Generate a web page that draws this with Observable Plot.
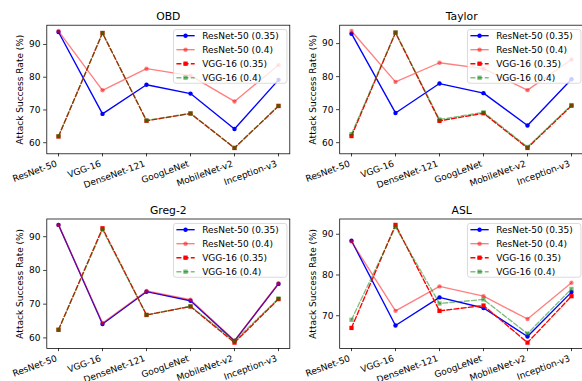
<!DOCTYPE html>
<html><head><meta charset="utf-8">
<script src="https://cdn.jsdelivr.net/npm/d3@7"></script>
<script src="https://cdn.jsdelivr.net/npm/@observablehq/plot@0.6"></script>
<style>
html,body{margin:0;padding:0;background:#fff;overflow:hidden}
#root{position:relative;width:582px;height:381px;overflow:hidden;font-family:"DejaVu Sans",sans-serif;background:#fff}
.abs{position:absolute}
</style></head><body><div id="root"></div>
<script>
// ---- data ----
const models = ["ResNet-50", "VGG-16", "DenseNet-121", "GoogLeNet", "MobileNet-v2", "Inception-v3"];
const seriesNames = ["ResNet-50 (0.35)", "ResNet-50 (0.4)", "VGG-16 (0.35)", "VGG-16 (0.4)"];
const yLabel = "Attack Success Rate (%)";
const titles = ["OBD", "Taylor", "Greg-2", "ASL"];

const obdResNet035 = [93.8, 68.8, 77.7, 75.0, 64.2, 79.2];
const obdResNet04  = [94.1, 76.0, 82.6, 80.5, 72.6, 83.7];
const obdVGG035    = [61.9, 93.5, 66.7, 68.9, 58.4, 71.2];
const obdVGG04     = [62.0, 93.5, 66.8, 69.0, 58.4, 71.3];

const taylorResNet035 = [93.0, 69.0, 77.9, 75.0, 65.2, 79.2];
const taylorResNet04  = [93.8, 78.4, 84.2, 82.4, 75.9, 85.2];
const taylorVGG035    = [62.0, 93.3, 66.6, 68.9, 58.4, 71.2];
const taylorVGG04     = [62.6, 93.4, 67.0, 69.2, 58.7, 71.4];

const gregResNet035 = [93.5, 64.1, 73.7, 71.0, 59.1, 76.0];
const gregResNet04  = [93.5, 64.4, 73.9, 71.3, 59.2, 76.2];
const gregVGG035    = [62.4, 92.5, 66.8, 69.3, 58.6, 71.5];
const gregVGG04     = [62.4, 92.1, 66.8, 69.4, 59.1, 71.7];

const aslResNet035 = [88.4, 67.6, 74.5, 71.9, 64.9, 75.8];
const aslResNet04  = [88.2, 71.2, 77.2, 74.8, 69.2, 78.1];
const aslVGG035    = [67.0, 92.3, 71.2, 72.5, 63.4, 74.8];
const aslVGG04     = [69.0, 91.8, 73.0, 74.0, 65.6, 76.6];

const yTicksOBD = [60, 70, 80, 90];
const yTicksTaylor = [60, 70, 80, 90];
const yTicksGreg = [60, 70, 80, 90];
const yTicksASL = [70, 80, 90];

// ---- styles ----
const seriesStyle = [
  {color: "#0000ff", alpha: 1, dash: null, symbol: "circle"},
  {color: "#ff0000", alpha: 0.5, dash: null, symbol: "circle"},
  {color: "#ff0000", alpha: 1, dash: "5,2.2", symbol: "square"},
  {color: "#008000", alpha: 0.5, dash: "5,2.2", symbol: "square"}
];

const panels = [
  {title: titles[0], values: [obdResNet035, obdResNet04, obdVGG035, obdVGG04], ticks: yTicksOBD,
   left: 0, top: 0, w: 291, h: 190, fx0: 46.3, fx1: 289.3, fy0: 24.7, fy1: 153.3},
  {title: titles[1], values: [taylorResNet035, taylorResNet04, taylorVGG035, taylorVGG04], ticks: yTicksTaylor,
   left: 291, top: 0, w: 294, h: 190, fx0: 339.2, fx1: 583.2, fy0: 24.7, fy1: 153.3},
  {title: titles[2], values: [gregResNet035, gregResNet04, gregVGG035, gregVGG04], ticks: yTicksGreg,
   left: 0, top: 190, w: 291, h: 191, fx0: 46.3, fx1: 289.3, fy0: 218.5, fy1: 348},
  {title: titles[3], values: [aslResNet035, aslResNet04, aslVGG035, aslVGG04], ticks: yTicksASL,
   left: 291, top: 190, w: 294, h: 191, fx0: 339.2, fx1: 583.2, fy0: 218.5, fy1: 348}
];

const root = d3.select("#root");

function makePanel(p) {
  const all = p.values.flat();
  const lo = d3.min(all), hi = d3.max(all), pad = (hi - lo) * 0.05;
  const marks = [];
  p.values.forEach((vals, i) => {
    const st = seriesStyle[i];
    const rows = vals.map((v, j) => ({model: models[j], value: v}));
    marks.push(Plot.line(rows, {x: "model", y: "value", stroke: st.color, strokeOpacity: st.alpha,
      strokeWidth: 1.35, strokeDasharray: st.dash || undefined}));
    marks.push(Plot.dot(rows, {x: "model", y: "value", fill: st.color, fillOpacity: st.alpha,
      stroke: "none", symbol: st.symbol, r: st.symbol === "square" ? 2.4 : 2.2}));
  });
  marks.push(Plot.frame({stroke: "black", strokeWidth: 0.75}));
  marks.push(Plot.axisX({tickSize: 3.15, tickFormat: () => "", label: null, strokeWidth: 0.75}));
  marks.push(Plot.axisY({ticks: p.ticks, tickSize: 3.15, tickPadding: 3.15, label: null, strokeWidth: 0.75, fontSize: 9}));
  marks.push(Plot.text(models, {x: d => d, frameAnchor: "bottom", dy: 6.3, dx: -3, rotate: -20,
    textAnchor: "end", lineAnchor: "top", fontSize: 9, fill: "black"}));
  marks.push(Plot.text([p.title], {frameAnchor: "top", dy: -5.4, textAnchor: "middle", lineAnchor: "bottom", fontSize: 10.8, fill: "black"}));
  marks.push(Plot.text([yLabel], {frameAnchor: "left", dx: -26.4, rotate: -90, textAnchor: "middle", lineAnchor: "middle", fontSize: 9, fill: "black"}));

  const svg = Plot.plot({
    width: p.w, height: p.h,
    marginLeft: p.fx0 - p.left, marginRight: p.left + p.w - p.fx1,
    marginTop: p.fy0 - p.top, marginBottom: p.top + p.h - p.fy1,
    x: {type: "point", domain: models, padding: 0.25},
    y: {domain: [lo - pad, hi + pad]},
    style: {fontFamily: "DejaVu Sans", fontSize: "9px", color: "black", background: "transparent", overflow: "visible"},
    marks
  });
  d3.select(svg).attr("class", "abs").style("left", p.left + "px").style("top", p.top + "px");
  root.node().appendChild(svg);

  // legend
  const lw = 114.4, lh = 54.7;
  const lx = p.fx1 - 1.7 - lw, ly = p.fy0 + 4.6;
  const lg = root.append("svg").attr("class", "abs").attr("width", lw).attr("height", lh)
    .style("left", lx + "px").style("top", ly + "px").style("overflow", "visible");
  lg.append("rect").attr("x", 0.45).attr("y", 0.45).attr("width", lw - 0.9).attr("height", lh - 0.9)
    .attr("rx", 2.5).attr("fill", "white").attr("fill-opacity", 0.8)
    .attr("stroke", "#cccccc").attr("stroke-opacity", 0.8).attr("stroke-width", 0.9);
  seriesNames.forEach((name, i) => {
    const st = seriesStyle[i];
    const cy = 6.7 + 14 * i;
    lg.append("line").attr("x1", 3.4).attr("x2", 21.7).attr("y1", cy).attr("y2", cy)
      .attr("stroke", st.color).attr("stroke-opacity", st.alpha).attr("stroke-width", 1.35)
      .attr("stroke-dasharray", st.dash);
    const mx = 12.55;
    if (st.symbol === "circle") {
      lg.append("circle").attr("cx", mx).attr("cy", cy).attr("r", 2.2).attr("fill", st.color).attr("fill-opacity", st.alpha);
    } else {
      lg.append("rect").attr("x", mx - 2.15).attr("y", cy - 2.15).attr("width", 4.3).attr("height", 4.3)
        .attr("fill", st.color).attr("fill-opacity", st.alpha);
    }
    lg.append("text").attr("x", 29.2).attr("y", cy + 3.2).attr("font-size", 9)
      .attr("font-family", "DejaVu Sans").attr("fill", "black").text(name);
  });
}

panels.forEach(makePanel);
</script>
</body></html>
